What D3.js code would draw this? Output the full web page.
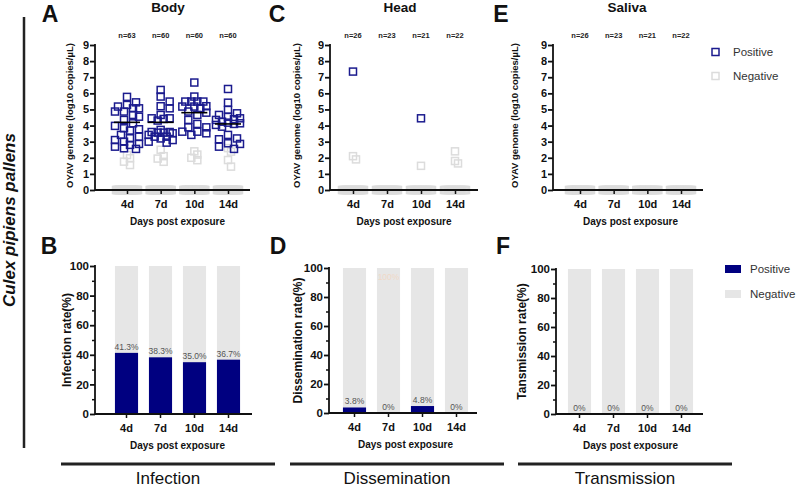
<!DOCTYPE html>
<html>
<head>
<meta charset="utf-8">
<script src="https://cdn.jsdelivr.net/npm/d3@7"></script>
<style>
  html, body { margin: 0; padding: 0; background: #fff; }
  svg { display: block; font-family: "Liberation Sans", Arial, sans-serif; }
</style>
</head>
<body>
<svg id="chart" width="797" height="491"></svg>
<script>
// ---------------- DATA ----------------
const days = ["4d", "7d", "10d", "14d"];
const yTicksScatter = [0, 1, 2, 3, 4, 5, 6, 7, 8, 9];
const yTicksBar = [0, 20, 40, 60, 80, 100];
const yMinorBar = [10, 30, 50, 70, 90];

const bodyN = [63, 60, 60, 60];
const headN = [26, 23, 21, 22];
const salivaN = [26, 23, 21, 22];

const bodyPositive = [
  [5.44, 5.78, 5.07, 5.07, 5.28, 5.18, 4.87, 4.87, 4.66, 4.55, 4.35, 4.14, 3.98, 3.77, 3.69, 3.83, 3.42, 3.31, 3.21, 3.10, 3.00, 2.80, 2.69, 2.59, 2.55, 2.86],
  [6.21, 5.80, 5.49, 5.20, 5.07, 4.66, 4.45, 4.45, 4.41, 4.31, 3.73, 3.56, 3.60, 3.60, 3.56, 3.52, 3.31, 3.31, 3.42, 3.00, 3.10, 3.20, 2.94],
  [6.67, 5.80, 5.49, 5.49, 5.49, 5.49, 5.18, 5.18, 5.20, 5.07, 4.87, 4.80, 4.66, 4.35, 4.10, 3.89, 3.89, 3.62, 3.62, 3.42, 3.52],
  [6.27, 5.42, 4.97, 4.76, 4.66, 4.55, 4.45, 4.35, 4.39, 4.24, 4.18, 4.14, 4.10, 4.04, 3.93, 3.42, 3.15, 3.20, 2.86, 2.90, 2.69, 2.55]
];
const bodyNegativeNonzero = [
  [2.17, 1.97, 1.76, 1.55],
  [2.50, 2.10, 1.95, 1.75],
  [2.40, 2.20, 2.00, 1.85],
  [2.60, 2.38, 1.86, 1.45]
];
const bodyMedian = [4.2, 4.2, 4.8, 4.1];

const headPositive = [[7.35], [], [4.45], []];
const headNegativeNonzero = [[2.1, 1.9], [], [1.5], [2.4, 1.8, 1.65]];

const salivaPositive = [[], [], [], []];
const salivaNegativeNonzero = [[], [], [], []];

const infectionRate = [41.3, 38.3, 35.0, 36.7];
const disseminationRate = [3.8, 0, 4.8, 0];
const transmissionRate = [0, 0, 0, 0];

const legendLabels = ["Positive", "Negative"];

// ---------------- STYLE ----------------
const POS_COLOR = "#1b1b8e";
const BAR_POS = "#000080";
const NEG_COLOR = "#dcdcdc";
const BAR_NEG = "#e6e6e6";
const FONT = '"Liberation Sans", Arial, sans-serif';

const svg = d3.select("#chart");

// ---------------- helpers ----------------
function fmtPct(v) { return v === 0 ? "0%" : v.toFixed(1) + "%"; }

function swarmOffsets(values, y, size, maxOff) {
  const cands = [0];
  for (let s = 3; s <= maxOff; s += 3) { cands.push(s, -s); }
  const idx = values.map((v, i) => i).sort((a, b) => values[b] - values[a]);
  const placed = [];
  const off = new Array(values.length).fill(0);
  idx.forEach(i => {
    const py = y(values[i]);
    let best = null, bestScore = Infinity;
    for (const c of cands) {
      let score = 0;
      for (const p of placed) {
        const dx = Math.abs(p.x - c), dy = Math.abs(p.y - py);
        if (dx < size && dy < size) score += (size - dx) * (size - dy);
      }
      if (score === 0) { best = c; bestScore = 0; break; }
      if (score < bestScore) { bestScore = score; best = c; }
    }
    off[i] = best;
    placed.push({ x: best, y: py });
  });
  return off;
}

// ---------------- scatter panels ----------------
function scatterPanel(cfg) {
  const g = svg.append("g");
  const y = d3.scaleLinear().domain([0, 9]).range([cfg.y0, cfg.y9]);
  const x = d3.scalePoint().domain(days).range([cfg.c0, cfg.c1]);

  days.forEach((d, i) => {
    const nz = cfg.neg[i];
    const zeroCount = cfg.n[i] - cfg.pos[i].length - nz.length;
    const zeros = d3.range(zeroCount);
    g.selectAll(null).data(zeros).enter().append("rect")
      .attr("x", k => x(d) + (zeroCount > 1 ? -11 + 22 * k / (zeroCount - 1) : 0) - 3.5)
      .attr("y", y(0) - 3.5)
      .attr("width", 7).attr("height", 7)
      .attr("fill", "none").attr("stroke", NEG_COLOR).attr("stroke-width", 1.5);
    const offN = swarmOffsets(nz, y, 7, 4);
    g.selectAll(null).data(nz).enter().append("rect")
      .attr("x", (v, k) => x(d) + offN[k] - 3.5)
      .attr("y", v => y(v) - 3.5)
      .attr("width", 7).attr("height", 7)
      .attr("fill", "none").attr("stroke", NEG_COLOR).attr("stroke-width", 1.5);
  });

  const ya = d3.axisLeft(y).tickValues(yTicksScatter).tickSize(5).tickFormat(d3.format("d"));
  const yg = g.append("g").attr("transform", `translate(${cfg.ax},0)`).call(ya);
  yg.select(".domain").remove();
  yg.selectAll("line").attr("stroke", "#111").attr("stroke-width", 1.8);
  yg.selectAll("text").attr("font-family", FONT).attr("font-weight", "bold").attr("font-size", 11).attr("fill", "#111").attr("x", -6);
  g.append("line").attr("x1", cfg.ax).attr("x2", cfg.ax).attr("y1", cfg.y9 - 0.9).attr("y2", cfg.y0 + 0.9)
    .attr("stroke", "#111").attr("stroke-width", 1.8);
  g.append("line").attr("x1", cfg.ax).attr("x2", cfg.xEnd).attr("y1", cfg.y0).attr("y2", cfg.y0)
    .attr("stroke", "#111").attr("stroke-width", 1.8);
  const xa = d3.axisBottom(x).tickSize(4);
  const xg = g.append("g").attr("transform", `translate(0,${cfg.y0})`).call(xa);
  xg.select(".domain").remove();
  xg.selectAll("line").attr("stroke", "#111").attr("stroke-width", 1.5);
  xg.selectAll("text").attr("font-family", FONT).attr("font-weight", "bold").attr("font-size", 11).attr("fill", "#111").attr("y", 0).attr("dy", 18);

  days.forEach((d, i) => {
    const vals = cfg.pos[i];
    const off = swarmOffsets(vals, y, 6.5, 13);
    g.selectAll(null).data(vals).enter().append("rect")
      .attr("x", (v, k) => x(d) + off[k] - 3.5)
      .attr("y", v => y(v) - 3.5)
      .attr("width", 7).attr("height", 7)
      .attr("fill", "none").attr("stroke", POS_COLOR).attr("stroke-width", 1.5);
  });

  if (cfg.median) {
    g.selectAll(null).data(cfg.median).enter().append("line")
      .attr("x1", (m, i) => x(days[i]) - 13).attr("x2", (m, i) => x(days[i]) + 13)
      .attr("y1", m => y(m)).attr("y2", m => y(m))
      .attr("stroke", "#000").attr("stroke-width", 1.6);
  }

  g.selectAll(null).data(cfg.n).enter().append("text")
    .attr("x", (n, i) => x(days[i])).attr("y", 38)
    .attr("text-anchor", "middle").attr("font-family", FONT).attr("font-size", 7.5).attr("font-weight", "bold").attr("fill", "#222")
    .text(n => "n=" + n);

  g.append("text").attr("x", cfg.titleX).attr("y", 12).attr("text-anchor", "middle")
    .attr("font-family", FONT).attr("font-weight", "bold").attr("font-size", 13.5).attr("fill", "#111").text(cfg.title);
  g.append("text").attr("x", cfg.letterX).attr("y", 22).attr("text-anchor", "middle")
    .attr("font-family", FONT).attr("font-weight", "bold").attr("font-size", 23).attr("fill", "#111").text(cfg.letter);
  g.append("text").attr("transform", `translate(${cfg.ylabX},${(cfg.y0 + cfg.y9) / 2 - 2}) rotate(-90)`)
    .attr("text-anchor", "middle").attr("font-family", FONT).attr("font-weight", "bold").attr("font-size", 9.5).attr("fill", "#111")
    .text("OYAV genome (log10 copies/µL)");
  g.append("text").attr("x", (cfg.c0 + cfg.c1) / 2).attr("y", cfg.y0 + 35).attr("text-anchor", "middle")
    .attr("font-family", FONT).attr("font-weight", "bold").attr("font-size", 10).attr("fill", "#111").text("Days post exposure");
}

scatterPanel({ letter: "A", letterX: 50, title: "Body", titleX: 168, ax: 95, xEnd: 250, y0: 190, y9: 45, c0: 127, c1: 228, ylabX: 73,
  n: bodyN, pos: bodyPositive, neg: bodyNegativeNonzero, median: bodyMedian });
scatterPanel({ letter: "C", letterX: 277, title: "Head", titleX: 400, ax: 330, xEnd: 478, y0: 190, y9: 45, c0: 353, c1: 455, ylabX: 300,
  n: headN, pos: headPositive, neg: headNegativeNonzero, median: null });
scatterPanel({ letter: "E", letterX: 501, title: "Saliva", titleX: 627, ax: 553, xEnd: 703, y0: 190, y9: 45, c0: 580, c1: 681, ylabX: 518,
  n: salivaN, pos: salivaPositive, neg: salivaNegativeNonzero, median: null });

const legTop = svg.append("g");
legendLabels.forEach((lab, i) => {
  legTop.append("rect").attr("x", 712).attr("y", 48.5 + i * 24).attr("width", 7).attr("height", 7)
    .attr("fill", "none").attr("stroke", i === 0 ? POS_COLOR : NEG_COLOR).attr("stroke-width", 1.5);
  legTop.append("text").attr("x", 733).attr("y", 56 + i * 24).attr("font-family", FONT).attr("font-size", 11.5).attr("fill", "#333").text(lab);
});

// ---------------- bar panels ----------------
function barPanel(cfg) {
  const g = svg.append("g");
  const y = d3.scaleLinear().domain([0, 100]).range([cfg.y0, cfg.y100]);
  const x = d3.scaleBand().domain(days).range([cfg.bx0, cfg.bx0 + 136]).paddingInner(0.32).paddingOuter(0.16);

  g.selectAll(null).data(days).enter().append("rect")
    .attr("x", d => x(d)).attr("width", x.bandwidth())
    .attr("y", y(100)).attr("height", y(0) - y(100)).attr("fill", BAR_NEG);
  g.selectAll(null).data(cfg.rate).enter().append("rect")
    .attr("x", (v, i) => x(days[i])).attr("width", x.bandwidth())
    .attr("y", v => y(v)).attr("height", v => y(0) - y(v)).attr("fill", BAR_POS);
  g.selectAll(null).data(cfg.rate).enter().append("text")
    .attr("x", (v, i) => x(days[i]) + x.bandwidth() / 2).attr("y", v => y(v) - 3)
    .attr("text-anchor", "middle").attr("font-family", FONT).attr("font-size", 8.5).attr("fill", "#555")
    .text(v => fmtPct(v));
  if (cfg.ghost) {
    g.append("text").attr("x", x(days[cfg.ghost.index]) + x.bandwidth() / 2).attr("y", y(100) + 12)
      .attr("text-anchor", "middle").attr("font-family", FONT).attr("font-size", 8.5).attr("fill", "#f0d9c8")
      .text(cfg.ghost.text);
  }

  const ya = d3.axisLeft(y).tickValues(yTicksBar).tickSize(5);
  const yg = g.append("g").attr("transform", `translate(${cfg.ax},0)`).call(ya);
  yg.select(".domain").remove();
  yg.selectAll("line").attr("stroke", "#111").attr("stroke-width", 1.8);
  yg.selectAll("text").attr("font-family", FONT).attr("font-weight", "bold").attr("font-size", 11.5).attr("fill", "#111").attr("x", -6);
  const ym = d3.axisLeft(y).tickValues(yMinorBar).tickSize(3).tickFormat("");
  const ymg = g.append("g").attr("transform", `translate(${cfg.ax},0)`).call(ym);
  ymg.select(".domain").remove();
  ymg.selectAll("line").attr("stroke", "#111").attr("stroke-width", 1.5);
  g.append("line").attr("x1", cfg.ax).attr("x2", cfg.ax).attr("y1", cfg.y100 - 0.9).attr("y2", cfg.y0 + 0.9)
    .attr("stroke", "#111").attr("stroke-width", 1.8);
  g.append("line").attr("x1", cfg.ax).attr("x2", cfg.xEnd).attr("y1", cfg.y0).attr("y2", cfg.y0)
    .attr("stroke", "#111").attr("stroke-width", 1.8);
  const xa = d3.axisBottom(x).tickSize(4);
  const xg = g.append("g").attr("transform", `translate(0,${cfg.y0})`).call(xa);
  xg.select(".domain").remove();
  xg.selectAll("line").attr("stroke", "#111").attr("stroke-width", 1.5);
  xg.selectAll("text").attr("font-family", FONT).attr("font-weight", "bold").attr("font-size", 11).attr("fill", "#111").attr("y", 0).attr("dy", 18);

  g.append("text").attr("x", cfg.letterX).attr("y", 254).attr("text-anchor", "middle")
    .attr("font-family", FONT).attr("font-weight", "bold").attr("font-size", 23).attr("fill", "#111").text(cfg.letter);
  g.append("text").attr("transform", `translate(${cfg.ylabX},${(cfg.y0 + cfg.y100) / 2}) rotate(-90)`)
    .attr("text-anchor", "middle").attr("font-family", FONT).attr("font-weight", "bold").attr("font-size", 12).attr("fill", "#111")
    .text(cfg.ylab);
  g.append("text").attr("x", cfg.bx0 + 68).attr("y", cfg.y0 + 35).attr("text-anchor", "middle")
    .attr("font-family", FONT).attr("font-weight", "bold").attr("font-size", 10).attr("fill", "#111").text("Days post exposure");

  g.append("line").attr("x1", cfg.lineX0).attr("x2", cfg.lineX0 + 214).attr("y1", 464).attr("y2", 464)
    .attr("stroke", "#222").attr("stroke-width", 3);
  g.append("text").attr("x", cfg.lineX0 + 107).attr("y", 484).attr("text-anchor", "middle")
    .attr("font-family", FONT).attr("font-size", 17).attr("fill", "#111").text(cfg.group);
}

barPanel({ letter: "B", letterX: 49, ax: 95, xEnd: 252, y0: 414, y100: 266, bx0: 109.5, ylabX: 71, ylab: "Infection rate(%)",
  rate: infectionRate, group: "Infection", lineX0: 61 });
barPanel({ letter: "D", letterX: 278, ax: 329, xEnd: 477, y0: 413, y100: 268, bx0: 337.5, ylabX: 302, ylab: "Dissemination rate(%)",
  rate: disseminationRate, group: "Dissemination", lineX0: 290, ghost: { index: 1, text: "100%" } });
barPanel({ letter: "F", letterX: 503, ax: 556, xEnd: 703, y0: 414, y100: 269, bx0: 562.5, ylabX: 526, ylab: "Tansmission rate(%)",
  rate: transmissionRate, group: "Transmission", lineX0: 518 });

const legBot = svg.append("g");
legendLabels.forEach((lab, i) => {
  legBot.append("rect").attr("x", 725).attr("y", 265 + i * 25).attr("width", 16).attr("height", 8)
    .attr("fill", i === 0 ? BAR_POS : BAR_NEG);
  legBot.append("text").attr("x", 750).attr("y", 273 + i * 25).attr("font-family", FONT).attr("font-size", 11.5).attr("fill", "#333").text(lab);
});

svg.append("line").attr("x1", 24).attr("x2", 24).attr("y1", 17).attr("y2", 448).attr("stroke", "#222").attr("stroke-width", 2.5);
svg.append("text").attr("transform", "translate(15,220) rotate(-90)").attr("text-anchor", "middle")
  .attr("font-family", FONT).attr("font-weight", "bold").attr("font-style", "italic").attr("font-size", 17).attr("fill", "#111")
  .text("Culex pipiens pallens");
</script>
</body>
</html>
